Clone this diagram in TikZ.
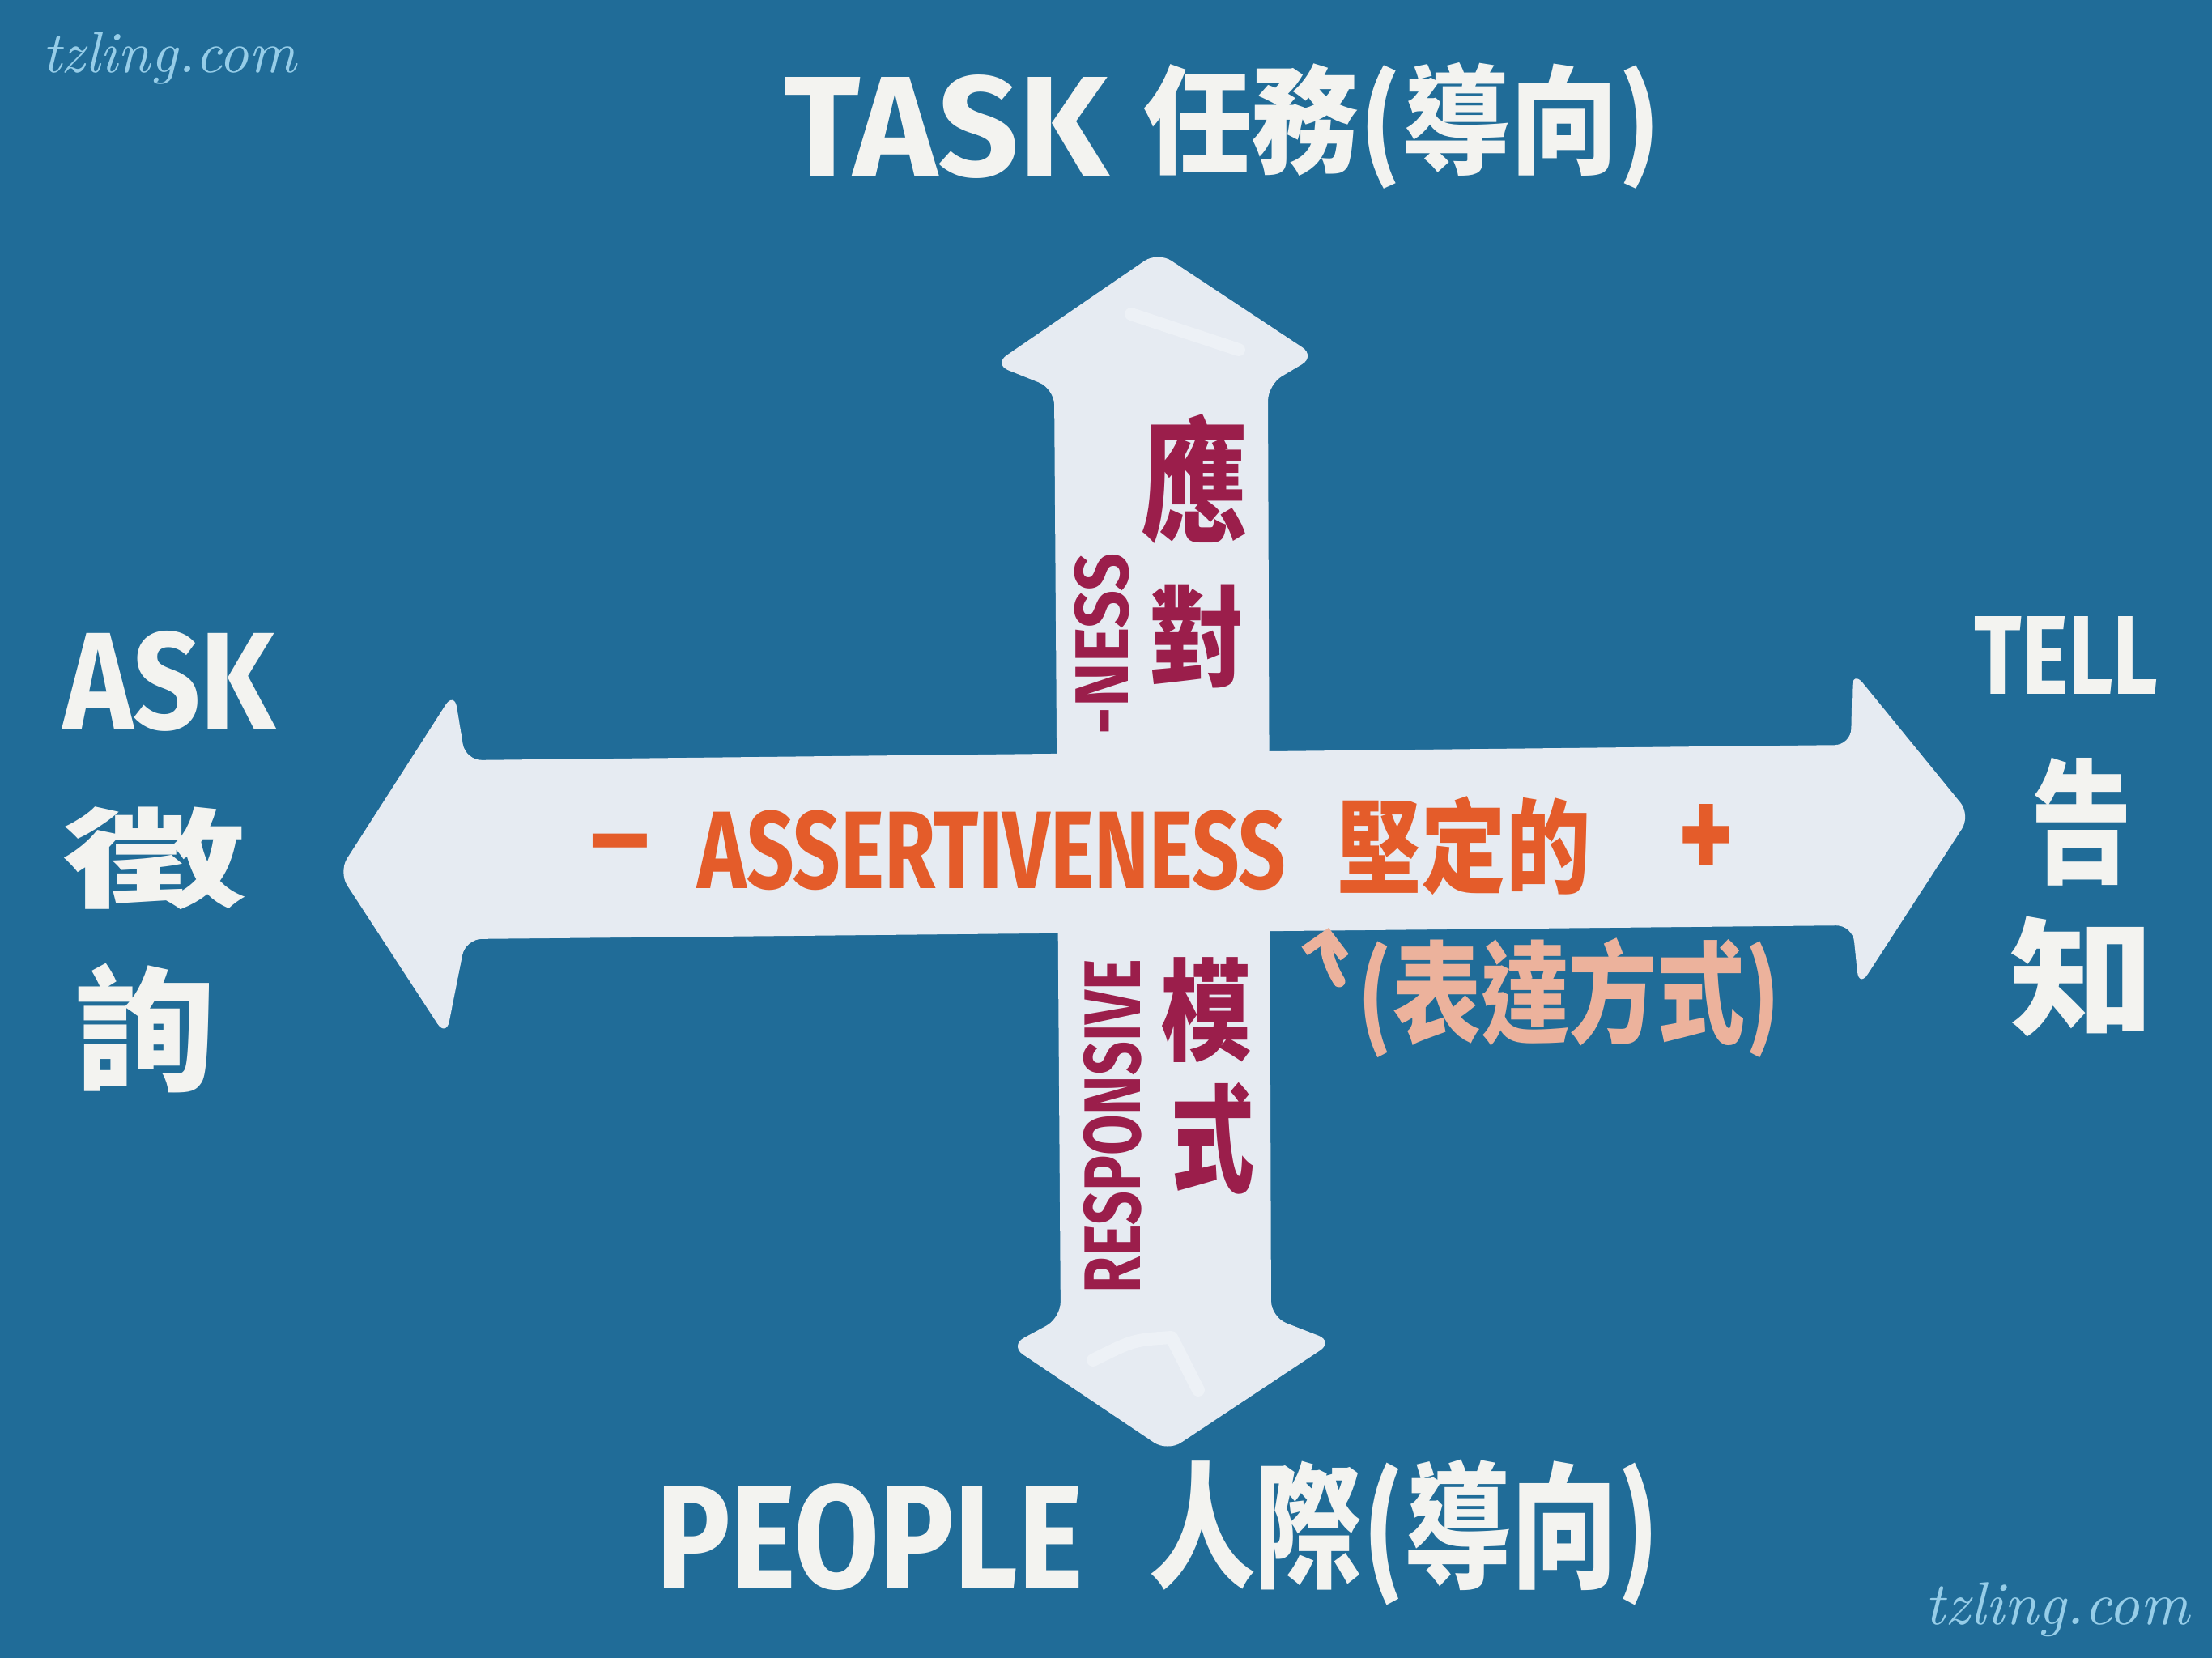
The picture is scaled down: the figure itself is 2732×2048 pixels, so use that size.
\documentclass[tikz,border=0pt]{standalone}
\usepackage{fontspec}
\usepackage{graphicx}
\usetikzlibrary{arrows.meta}
\newfontfamily\lat{Fira Sans}
\newfontfamily\cjk{Noto Sans CJK TC}
\definecolor{bg}{RGB}{32,108,152}
\definecolor{arrowfill}{RGB}{230,235,242}
\definecolor{faintmark}{RGB}{237,241,246}
\definecolor{whitetxt}{RGB}{243,243,240}
\definecolor{orangetxt}{RGB}{228,92,42}
\definecolor{crimson}{RGB}{155,30,75}
\definecolor{peach}{RGB}{236,178,156}
\definecolor{wmark}{RGB}{150,205,232}
\newcommand\fitbox[3]{\resizebox*{#1pt}{#2pt}{#3}}
\tikzset{
  lbl/.style={inner sep=0pt, outer sep=0pt},
  wtxt/.style={lbl, text=whitetxt},
  otxt/.style={lbl, text=orangetxt},
  rtxt/.style={lbl, text=crimson},
  ptxt/.style={lbl, text=peach},
  wmtxt/.style={lbl, text=wmark},
  bigarrow/.style={fill=arrowfill, rounded corners=2pt},
}
\begin{document}
\begin{tikzpicture}[x=0.1pt,y=-0.1pt]
\fill[bg] (0,0) rectangle (2732,2048);
\useasboundingbox (0,0) rectangle (2732,2048);

% vertical double arrow
\fill[bigarrow] (1430,311) -- (1625,440) -- (1566,475) -- (1570,1627) -- (1647,1657)
  -- (1442,1793) -- (1247,1662) -- (1310,1628) -- (1302,480) -- (1227,450) -- cycle;
% horizontal double arrow
\fill[bigarrow] (418,1077) -- (561,854) -- (575,939) -- (2286,920) -- (2288,828)
  -- (2434,1007) -- (2296,1220) -- (2288,1143) -- (575,1160) -- (551,1281) -- cycle;

% faint marks inside heads
\draw[faintmark, line width=1.6pt, line cap=round] (1397,388) -- (1530,432);
\draw[faintmark, line width=1.6pt, line cap=round, line join=round]
  (1350,1680) .. controls (1400,1655) .. (1447,1652) -- (1480,1717);

% outer labels
\node[wtxt] (task) at (1169,156) {\fitbox{40}{12.8}{\lat\bfseries TASK}};
\node[wtxt] (taskzh) at (1732,155) {\fitbox{63.9}{15.6}{\cjk\bfseries 任務(導向)}};
\node[wtxt] (ask) at (209,841) {\fitbox{26.2}{12.4}{\lat\bfseries ASK}};
\node[wtxt] (askzh1) at (191,1060) {\fitbox{22.7}{12.7}{\cjk\bfseries 徵}};
\node[wtxt] (askzh2) at (178,1270) {\fitbox{17.4}{16}{\cjk\bfseries 詢}};
\node[wtxt] (tell) at (2552,809) {\fitbox{22.7}{9.6}{\lat\bfseries TELL}};
\node[wtxt] (tellzh1) at (2571,1015) {\fitbox{12.5}{15.8}{\cjk\bfseries 告}};
\node[wtxt] (tellzh2) at (2572,1206) {\fitbox{17.9}{14.9}{\cjk\bfseries 知}};
\node[wtxt] (people) at (1074,1899) {\fitbox{52.8}{13.2}{\lat\bfseries PEOPLE}};
\node[wtxt] (peoplezh) at (1735,1893) {\fitbox{63.1}{18}{\cjk\bfseries 人際(導向)}};

% assertiveness axis
\node[otxt, anchor=base] (minus) at (766,1082) {\lat\bfseries\fontsize{14}{14}\selectfont –};
\node[otxt] (assert) at (1225,1050) {\fitbox{72.7}{9.9}{\lat\bfseries ASSERTIVENESS}};
\node[otxt] (assertzh) at (1808,1045) {\fitbox{31.3}{12.2}{\cjk\bfseries 堅定的}};
\node[otxt] (plus) at (2108,1041) {\fitbox{7}{9.6}{\lat\bfseries +}};

% responsiveness axis
\node[rtxt] (resp1) at (1476,592) {\fitbox{13.2}{16}{\cjk\bfseries 應}};
\node[rtxt] (resp2) at (1479,786) {\fitbox{11.8}{12.8}{\cjk\bfseries 對}};
\node[rtxt] (resp3) at (1489,1248) {\fitbox{11.2}{13}{\cjk\bfseries 模}};
\node[rtxt] (resp4) at (1498,1406) {\fitbox{10.3}{13.8}{\cjk\bfseries 式}};
\node[rtxt, rotate=90] (respen1) at (1374,1391) {\fitbox{41.2}{7.2}{\lat\bfseries RESPONSIVE}};
\node[rtxt, rotate=90] (respen2) at (1361,795) {\fitbox{22.4}{6.8}{\lat\bfseries -NESS}};

% expression note
\node[ptxt] (express) at (1938,1233) {\fitbox{52.3}{14.8}{\cjk\bfseries (表達方式)}};
\coordinate (pa1) at (1654,1212);
\coordinate (pa2) at (1641,1146);
\draw[peach, line width=1.5pt, line cap=round,
  -{Straight Barb[length=2.4pt,width=5pt,line width=1.3pt]}] (pa1) to[bend left=20] (pa2);

% watermarks
\node[wmtxt] (wm1) at (209,72) {\resizebox{31.4pt}{!}{\itshape tzling.com}};
\node[wmtxt] (wm2) at (2541,1988) {\resizebox{32.6pt}{!}{\itshape tzling.com}};
\end{tikzpicture}
\end{document}
